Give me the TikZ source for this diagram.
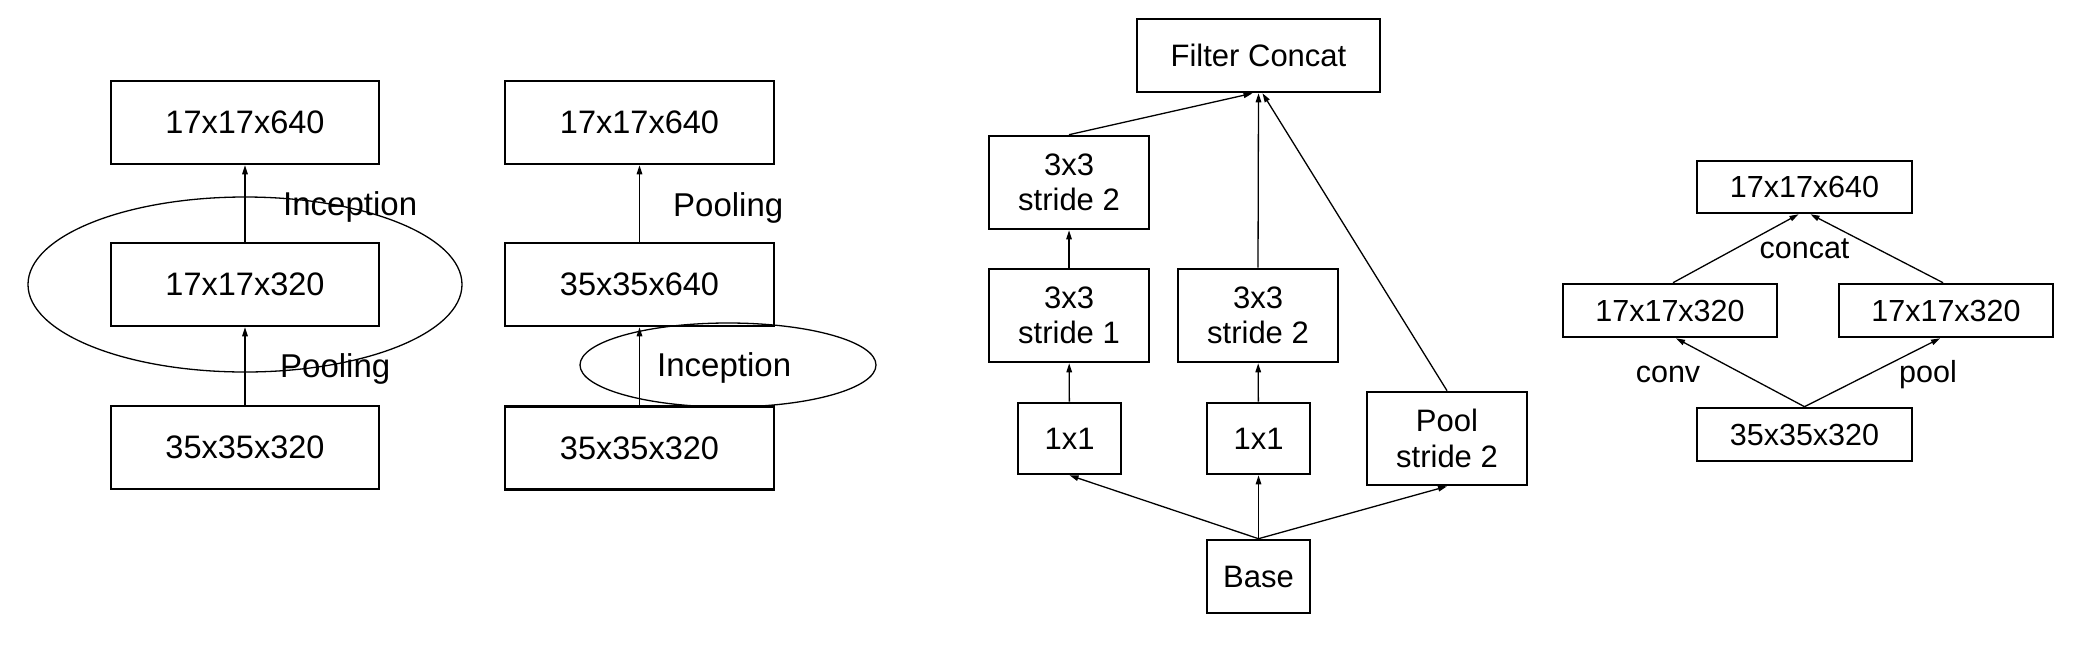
\documentclass[tikz,border=0pt]{standalone}
\usepackage{fontspec}
\setmainfont{Liberation Sans}
\usetikzlibrary{arrows.meta}
\begin{document}
\begin{tikzpicture}[x=1pt,y=-1pt,
  box/.style={draw, line width=2.6pt, inner sep=0pt, align=center},
  bigf/.style={font=\fontsize{32.5}{36}\selectfont},
  midf/.style={font=\fontsize{31}{35.5}\selectfont},
  smlf/.style={font=\fontsize{30.5}{35}\selectfont},
  lbl/.style={inner sep=0pt, font=\fontsize{33}{36}\selectfont},
  slbl/.style={inner sep=0pt, font=\fontsize{30.5}{35}\selectfont},
  arr/.style={-{Triangle[length=9pt,width=5.5pt]}, line width=1.3pt},
  ring/.style={line width=1.3pt}]
\useasboundingbox (0,0) rectangle (2074,654);
% ---------- column 1 ----------
\node[box,bigf,minimum width=268,minimum height=83] (a1) at (245,122.5) {17x17x640};
\node[box,bigf,minimum width=268,minimum height=83] (a2) at (245,284.5) {17x17x320};
\node[box,bigf,minimum width=268,minimum height=83] (a3) at (245,447.5) {35x35x320};
\draw[arr] (a3) -- (a2);
\draw[arr] (a2) -- (a1);
\draw[ring] (245,284.5) ellipse [x radius=217, y radius=87.5];
\node[lbl,anchor=base west] (a4) at (283,215) {Inception};
\node[lbl,anchor=base west] (a5) at (280,377) {Pooling};
% ---------- column 2 ----------
\node[box,bigf,minimum width=269,minimum height=83] (b1) at (639.5,122.5) {17x17x640};
\node[box,bigf,minimum width=269,minimum height=83] (b2) at (639.5,284.5) {35x35x640};
\node[box,bigf,minimum width=269,minimum height=83] (b3) at (639.5,448) {35x35x320};
\draw[arr] (b3) -- (b2);
\draw[arr] (b2) -- (b1);
\draw[ring] (728,365) ellipse [x radius=148, y radius=42];
\node[lbl,anchor=base west] (b4) at (673,216) {Pooling};
\node[lbl,anchor=base west] (b5) at (657,376) {Inception};
% ---------- middle diagram ----------
\node[box,midf,minimum width=243,minimum height=73] (fc) at (1258.5,55.5) {Filter Concat};
\node[box,midf,minimum width=160,minimum height=93] (s2a) at (1069,182.5) {3x3\\stride 2};
\node[box,midf,minimum width=160,minimum height=93] (s1) at (1069,315.5) {3x3\\stride 1};
\node[box,midf,minimum width=160,minimum height=93] (s2b) at (1258,315.5) {3x3\\stride 2};
\node[box,midf,minimum width=103,minimum height=71] (o1) at (1069.5,438.5) {1x1};
\node[box,midf,minimum width=103,minimum height=71] (o2) at (1258.5,438.5) {1x1};
\node[box,midf,minimum width=160,minimum height=93] (pl) at (1447,438.5) {Pool\\stride 2};
\node[box,midf,minimum width=103,minimum height=73] (bs) at (1258.5,576.5) {Base};
\draw[arr] (bs.north) -- (o1.south);
\draw[arr] (bs.north) -- (o2.south);
\draw[arr] (bs.north) -- (pl.south);
\draw[arr] (o1) -- (s1);
\draw[arr] (s1) -- (s2a);
\draw[arr] (o2) -- (s2b);
\draw[arr] (s2a.north) -- ([xshift=-6pt]fc.south);
\draw[arr] (s2b.north) -- (fc.south);
\draw[arr] (pl.north) -- ([xshift=4pt]fc.south);
% ---------- right diagram ----------
\node[box,smlf,minimum width=215,minimum height=52] (r1) at (1804.5,187) {17x17x640};
\node[box,smlf,minimum width=214,minimum height=53] (r2) at (1670,310.5) {17x17x320};
\node[box,smlf,minimum width=214,minimum height=53] (r3) at (1946,310.5) {17x17x320};
\node[box,smlf,minimum width=215,minimum height=53] (r4) at (1804.5,434.5) {35x35x320};
\draw[arr] (r4.north) -- ([xshift=6pt]r2.south);
\draw[arr] (r4.north) -- ([xshift=-6pt]r3.south);
\draw[arr] ([xshift=3pt]r2.north) -- ([xshift=-6pt]r1.south);
\draw[arr] ([xshift=-3pt]r3.north) -- ([xshift=6pt]r1.south);
\node[slbl,anchor=base] (r5) at (1804.5,258) {concat};
\node[slbl,anchor=base] (r6) at (1668,382) {conv};
\node[slbl,anchor=base] (r7) at (1928,382) {pool};
\end{tikzpicture}
\end{document}
